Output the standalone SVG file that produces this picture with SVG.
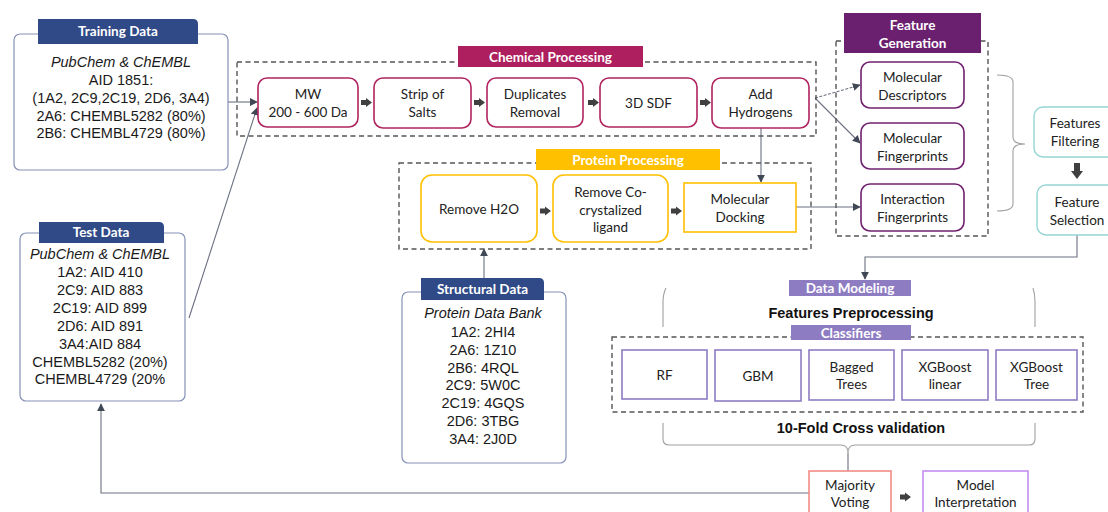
<svg xmlns="http://www.w3.org/2000/svg" width="1108" height="512" viewBox="0 0 1108 512">
<defs>
<marker id="ah" viewBox="0 0 10 10" refX="9" refY="5" markerWidth="8" markerHeight="8" markerUnits="userSpaceOnUse" orient="auto"><path d="M0,0 L10,5 L0,10 z" fill="#404855"/></marker>
<path id="barr" d="M0,-2.5 H5 V-4.5 L11,0 L5,4.5 V2.5 H0 Z" fill="#404040"/>
</defs>
<style>
.data{fill:#fff;stroke:#8592b5;stroke-width:1.2}
.hdr{fill:#2F4A87}
.ht{font-family:Lato,"Liberation Sans",sans-serif;font-weight:bold;font-size:13.5px;fill:#fff;text-anchor:middle}
.dt{font-family:"Liberation Sans",Arial,sans-serif;font-size:14.5px;fill:#1a1a1a;text-anchor:middle}
.it{font-style:italic}
.nt{font-family:Lato,"Open Sans",sans-serif;font-size:13.5px;fill:#222;text-anchor:middle}
.dash{fill:none;stroke:#555;stroke-width:1.4;stroke-dasharray:5,3.5}
.chem{fill:#fff;stroke:#B0245F;stroke-width:1.6}
.prot{fill:#fff;stroke:#FFC000;stroke-width:1.6}
.fg{fill:#fff;stroke:#70206F;stroke-width:1.6}
.cls{fill:#fff;stroke:#8E7CC3;stroke-width:1.6}
.teal{fill:#fff;stroke:#95D5D5;stroke-width:1.4}
.con{fill:none;stroke:#6b7080;stroke-width:1.1}
.brace{fill:none;stroke:#a0a0a0;stroke-width:1.1}
.bt{font-family:"Liberation Sans",Arial,sans-serif;font-weight:bold;font-size:14.5px;fill:#111;text-anchor:middle}
</style>
<rect width="1108" height="512" fill="#fff"/>

<g id="connectors">
<path class="con" d="M228,102 H257" marker-end="url(#ah)"/>
<path class="con" d="M189,318 L257,108" marker-end="url(#ah)"/>
<path class="con" d="M761,128 V182" marker-end="url(#ah)"/>
<path class="con" d="M815,98 L860,85" stroke-dasharray="3,1.5" marker-end="url(#ah)"/>
<path class="con" d="M815,98 L860,143" marker-end="url(#ah)"/>
<path class="con" d="M796,207 H860" marker-end="url(#ah)"/>
<path class="con" d="M484,278 V249" marker-end="url(#ah)"/>
<path class="con" d="M1077,235 V257 H865 V279" marker-end="url(#ah)"/>
<path class="con" d="M848,453 V471"/>
<path class="con" d="M809,493 H101 V404" marker-end="url(#ah)"/>
<path class="brace" d="M997,75 Q1013,75 1013,82 V137 Q1013,144 1025,144 Q1013,144 1013,151 V204 Q1013,211 997,211"/>
<path class="brace" d="M666,288 Q663,294 663,302 V327"/>
<path class="brace" d="M1033,288 Q1035,294 1035,302 V327"/>
<path class="brace" d="M663,423 V439 Q663,445 669,445 H841 Q848,445 848,453 Q848,445 855,445 H1029 Q1035,445 1035,439 V423"/>
<use href="#barr" x="361" y="102.5"/>
<use href="#barr" x="474" y="102.5"/>
<use href="#barr" x="588" y="102.5"/>
<use href="#barr" x="700" y="102.5"/>
<use href="#barr" x="540" y="211"/>
<use href="#barr" x="671" y="211"/>
<use href="#barr" x="900" y="497"/>
<path d="M1074,163 H1080 V171 H1083 L1077,179 L1071,171 H1074 Z" fill="#404040"/>
</g>

<g id="training-data">
<rect class="data" x="14" y="34" width="214" height="136" rx="6"/>
<path class="hdr" d="M38,19 H193 Q198,19 198,24 V44 H38 Z"/>
<text class="ht" x="118" y="36">Training Data</text>
<text class="dt it" x="121" y="67" font-size="15">PubChem &amp; ChEMBL</text>
<text class="dt" x="121" y="85" font-size="15">AID 1851:</text>
<text class="dt" x="121" y="103" font-size="15">(1A2, 2C9,2C19, 2D6, 3A4)</text>
<text class="dt" x="121" y="120.5" font-size="15">2A6: CHEMBL5282 (80%)</text>
<text class="dt" x="121" y="138" font-size="15">2B6: CHEMBL4729 (80%)</text>
</g>

<g id="test-data">
<rect class="data" x="20" y="233" width="165" height="168" rx="6"/>
<path class="hdr" d="M39,222 H159 Q164,222 164,227 V243 H39 Z"/>
<text class="ht" x="101" y="237">Test Data</text>
<text class="dt it" x="100" y="259">PubChem &amp; ChEMBL</text>
<text class="dt" x="100" y="277">1A2: AID 410</text>
<text class="dt" x="100" y="295">2C9: AID 883</text>
<text class="dt" x="100" y="312.5">2C19: AID 899</text>
<text class="dt" x="100" y="330.5">2D6: AID 891</text>
<text class="dt" x="100" y="348.5">3A4:AID 884</text>
<text class="dt" x="100" y="366.5">CHEMBL5282 (20%)</text>
<text class="dt" x="100" y="384">CHEMBL4729 (20%</text>
</g>

<g id="structural-data">
<rect class="data" x="402" y="292" width="164" height="171" rx="6"/>
<path class="hdr" d="M421,278 H539 Q544,278 544,283 V300 H421 Z"/>
<text class="ht" x="482.5" y="294">Structural Data</text>
<text class="dt it" x="483" y="318">Protein Data Bank</text>
<text class="dt" x="483" y="336.5">1A2: 2HI4</text>
<text class="dt" x="483" y="354.5">2A6: 1Z10</text>
<text class="dt" x="483" y="372.5">2B6: 4RQL</text>
<text class="dt" x="483" y="390">2C9: 5W0C</text>
<text class="dt" x="483" y="408">2C19: 4GQS</text>
<text class="dt" x="483" y="426">2D6: 3TBG</text>
<text class="dt" x="483" y="443.5">3A4: 2J0D</text>
</g>

<g id="chemical-processing">
<rect class="dash" x="237" y="62" width="579" height="74"/>
<rect x="458" y="46" width="185" height="21" fill="#AD1F5E"/>
<text class="ht" x="550.5" y="61.5">Chemical Processing</text>
</g>
<g id="mw"><rect class="chem" x="258" y="78" width="100" height="49" rx="9"/>
<text class="nt" x="308" y="98.5">MW</text><text class="nt" x="308" y="116.5">200 - 600 Da</text></g>
<g id="strip-salts"><rect class="chem" x="374" y="78" width="97" height="50" rx="9"/>
<text class="nt" x="422.5" y="98.5">Strip of</text><text class="nt" x="422.5" y="116.5">Salts</text></g>
<g id="duplicates"><rect class="chem" x="487" y="78" width="96" height="49" rx="9"/>
<text class="nt" x="535" y="98.5">Duplicates</text><text class="nt" x="535" y="116.5">Removal</text></g>
<g id="sdf"><rect class="chem" x="600" y="78" width="97" height="49" rx="9"/>
<text class="nt" x="648.5" y="107.5">3D SDF</text></g>
<g id="add-hydrogens"><rect class="chem" x="712" y="78" width="97" height="50" rx="9"/>
<text class="nt" x="760.5" y="98.5">Add</text><text class="nt" x="760.5" y="116.5">Hydrogens</text></g>

<g id="protein-processing">
<rect class="dash" x="399" y="163" width="412" height="86"/>
<rect x="536" y="149" width="184" height="21" fill="#FFC000"/>
<text class="ht" x="628" y="164.5">Protein Processing</text>
</g>
<g id="remove-h2o"><rect class="prot" x="421" y="175" width="116" height="67" rx="11"/>
<text class="nt" x="479" y="213.5">Remove H2O</text></g>
<g id="remove-co"><rect class="prot" x="553" y="175" width="115" height="67" rx="11"/>
<text class="nt" x="610.5" y="197">Remove Co-</text><text class="nt" x="610.5" y="214.5">crystalized</text><text class="nt" x="610.5" y="232">ligand</text></g>
<g id="docking"><rect class="prot" x="684" y="183" width="112" height="49"/>
<text class="nt" x="740" y="204">Molecular</text><text class="nt" x="740" y="222">Docking</text></g>

<g id="feature-generation">
<rect class="dash" x="836" y="41" width="152" height="195"/>
<rect x="844" y="13" width="137" height="40" fill="#6B206F"/>
<text class="ht" x="912.5" y="30">Feature</text>
<text class="ht" x="912.5" y="48">Generation</text>
</g>
<g id="mol-desc"><rect class="fg" x="861" y="62" width="103" height="46" rx="9"/>
<text class="nt" x="912.5" y="82">Molecular</text><text class="nt" x="912.5" y="99.5">Descriptors</text></g>
<g id="mol-fp"><rect class="fg" x="861" y="123" width="103" height="46" rx="9"/>
<text class="nt" x="912.5" y="143">Molecular</text><text class="nt" x="912.5" y="160.5">Fingerprints</text></g>
<g id="int-fp"><rect class="fg" x="861" y="184" width="103" height="47" rx="9"/>
<text class="nt" x="912.5" y="204">Interaction</text><text class="nt" x="912.5" y="222">Fingerprints</text></g>

<g id="features-filtering"><rect class="teal" x="1034" y="107" width="82" height="50" rx="9"/>
<text class="nt" x="1075" y="128">Features</text><text class="nt" x="1075" y="146">Filtering</text></g>
<g id="feature-selection"><rect class="teal" x="1037" y="185" width="80" height="50" rx="9"/>
<text class="nt" x="1077" y="207">Feature</text><text class="nt" x="1077" y="224.5">Selection</text></g>

<g id="data-modeling">
<rect x="789" y="280" width="122" height="16" fill="#8E7CC3"/>
<text class="ht" x="850" y="293">Data Modeling</text>
<text class="bt" x="851" y="318">Features Preprocessing</text>
<rect class="dash" x="612" y="337" width="471" height="75"/>
<rect x="791" y="325" width="120" height="15" fill="#8E7CC3"/>
<text class="ht" x="851" y="337.5">Classifiers</text>
<text class="bt" x="861" y="432.5">10-Fold Cross validation</text>
</g>
<g id="rf"><rect class="cls" x="622" y="350" width="85" height="49"/>
<text class="nt" x="664.5" y="380">RF</text></g>
<g id="gbm"><rect class="cls" x="715" y="350" width="86" height="51"/>
<text class="nt" x="758" y="381">GBM</text></g>
<g id="bagged"><rect class="cls" x="809" y="350" width="85" height="50"/>
<text class="nt" x="851.5" y="372">Bagged</text><text class="nt" x="851.5" y="389">Trees</text></g>
<g id="xgb-linear"><rect class="cls" x="902" y="350" width="86" height="50"/>
<text class="nt" x="945" y="372">XGBoost</text><text class="nt" x="945" y="389">linear</text></g>
<g id="xgb-tree"><rect class="cls" x="996" y="350" width="81" height="50"/>
<text class="nt" x="1036.5" y="372">XGBoost</text><text class="nt" x="1036.5" y="389">Tree</text></g>

<g id="majority-voting"><rect x="809" y="471" width="82" height="50" fill="#fff" stroke="#F08C84" stroke-width="1.6"/>
<text class="nt" x="850" y="490">Majority</text><text class="nt" x="850" y="507">Voting</text></g>
<g id="model-interpretation"><rect x="923" y="471" width="105" height="50" fill="#fff" stroke="#C48FF0" stroke-width="1.6"/>
<text class="nt" x="975.5" y="490">Model</text><text class="nt" x="975.5" y="507">Interpretation</text></g>
</svg>
